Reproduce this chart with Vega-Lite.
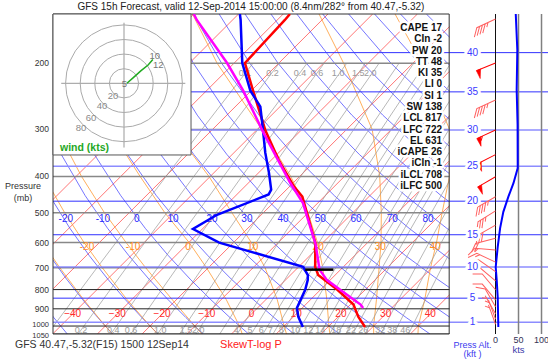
{
  "$schema": "https://vega.github.io/schema/vega-lite/v6.json",
  "width": 495,
  "height": 320,
  "autosize": {"type": "none"},
  "padding": {"left": 53, "top": 14, "right": 0, "bottom": 25},
  "background": "white",
  "config": {"view": {"stroke": null}, "font": "Liberation Sans"},
  "resolve": {"scale": {"x": "independent", "y": "independent"}},
  "layer": [
    {
      "layer": [
        {
          "data": {"values": [
            {"T": -110, "P": [148, 1050]}, {"T": -100, "P": [148, 1050]}, {"T": -90, "P": [148, 1050]}, {"T": -80, "P": [148, 1050]},
            {"T": -70, "P": [148, 1050]}, {"T": -60, "P": [148, 1050]}, {"T": -50, "P": [148, 1050]}, {"T": -40, "P": [148, 1050]},
            {"T": -30, "P": [148, 1050]}, {"T": -20, "P": [148, 1050]}, {"T": -10, "P": [148, 1050]}, {"T": 0, "P": [148, 1050]},
            {"T": 10, "P": [148, 1050]}, {"T": 20, "P": [148, 1050]}, {"T": 30, "P": [148, 1050]}, {"T": 40, "P": [148, 1050]}
          ]},
          "transform": [{"flatten": ["P"]}, {"calculate": "datum.T + 36.53*log(1000/datum.P)", "as": "X"}],
          "mark": {"type": "line", "clip": true, "stroke": "#ff3b3b", "strokeWidth": 0.7},
          "encoding": {
            "x": {"field": "X", "type": "quantitative", "scale": {"domain": [-41.7, 69.0], "nice": false, "zero": false}, "axis": null},
            "y": {"field": "P", "type": "quantitative", "scale": {"type": "log", "domain": [148, 1050], "reverse": true, "nice": false}, "axis": null},
            "detail": {"field": "T"},
            "order": {"field": "P", "type": "quantitative"}
          }
        },
        {
          "data": {"values": [
            {"th": -40, "P": [1050, 950, 850, 750, 650, 550, 450, 350, 275, 200, 148]},
            {"th": -30, "P": [1050, 950, 850, 750, 650, 550, 450, 350, 275, 200, 148]},
            {"th": -20, "P": [1050, 950, 850, 750, 650, 550, 450, 350, 275, 200, 148]},
            {"th": -10, "P": [1050, 950, 850, 750, 650, 550, 450, 350, 275, 200, 148]},
            {"th": 0, "P": [1050, 950, 850, 750, 650, 550, 450, 350, 275, 200, 148]},
            {"th": 10, "P": [1050, 950, 850, 750, 650, 550, 450, 350, 275, 200, 148]},
            {"th": 20, "P": [1050, 950, 850, 750, 650, 550, 450, 350, 275, 200, 148]},
            {"th": 30, "P": [1050, 950, 850, 750, 650, 550, 450, 350, 275, 200, 148]},
            {"th": 40, "P": [1050, 950, 850, 750, 650, 550, 450, 350, 275, 200, 148]},
            {"th": 50, "P": [1050, 950, 850, 750, 650, 550, 450, 350, 275, 200, 148]},
            {"th": 60, "P": [1050, 950, 850, 750, 650, 550, 450, 350, 275, 200, 148]},
            {"th": 70, "P": [1050, 950, 850, 750, 650, 550, 450, 350, 275, 200, 148]},
            {"th": 80, "P": [1050, 950, 850, 750, 650, 550, 450, 350, 275, 200, 148]},
            {"th": 90, "P": [1050, 950, 850, 750, 650, 550, 450, 350, 275, 200, 148]},
            {"th": 100, "P": [1050, 950, 850, 750, 650, 550, 450, 350, 275, 200, 148]},
            {"th": 110, "P": [1050, 950, 850, 750, 650, 550, 450, 350, 275, 200, 148]},
            {"th": 120, "P": [1050, 950, 850, 750, 650, 550, 450, 350, 275, 200, 148]},
            {"th": 130, "P": [1050, 950, 850, 750, 650, 550, 450, 350, 275, 200, 148]},
            {"th": 140, "P": [1050, 950, 850, 750, 650, 550, 450, 350, 275, 200, 148]},
            {"th": 150, "P": [1050, 950, 850, 750, 650, 550, 450, 350, 275, 200, 148]},
            {"th": 160, "P": [1050, 950, 850, 750, 650, 550, 450, 350, 275, 200, 148]}
          ]},
          "transform": [
            {"flatten": ["P"]},
            {"calculate": "(datum.th+273.15)*pow(datum.P/1000,0.2857)-273.15", "as": "T"},
            {"calculate": "datum.T + 36.53*log(1000/datum.P)", "as": "X"}
          ],
          "mark": {"type": "line", "clip": true, "stroke": "#3b3bff", "strokeWidth": 0.7},
          "encoding": {
            "x": {"field": "X", "type": "quantitative", "scale": {"domain": [-41.7, 69.0], "nice": false, "zero": false}, "axis": null},
            "y": {"field": "P", "type": "quantitative", "scale": {"type": "log", "domain": [148, 1050], "reverse": true, "nice": false}, "axis": null},
            "detail": {"field": "th"},
            "order": {"field": "P", "type": "quantitative"}
          }
        },
        {
          "data": {"values": [
            {"w": -30, "P": [1050, 1000, 850, 700, 600, 500, 400, 300, 200, 148], "T": [-26.6, -30, -40.8, -53.2, -62.7, -73.3, -85.5, -100.3, -119, -131]},
            {"w": -20, "P": [1050, 1000, 850, 700, 600, 500, 400, 300, 200, 148], "T": [-16.5, -20, -31.1, -43.7, -53.4, -64.4, -77.2, -92.6, -112.2, -124.5]},
            {"w": -10, "P": [1050, 1000, 850, 700, 600, 500, 400, 300, 200, 148], "T": [-6.6, -10, -21.0, -34.0, -44.0, -55.5, -68.8, -84.8, -105, -118]},
            {"w": 0, "P": [1050, 1000, 850, 700, 600, 500, 400, 300, 200, 148], "T": [2.4, 0, -8.9, -20.4, -29.9, -42, -55.7, -72.9, -94.5, -108]},
            {"w": 10, "P": [1050, 1000, 850, 700, 600, 500, 400, 300, 200, 148], "T": [12.3, 10, 2.5, -7.3, -16.0, -27.0, -40.3, -58.7, -82.0, -97]},
            {"w": 20, "P": [1050, 1000, 850, 700, 600, 500, 400, 300, 200, 148], "T": [22.0, 20, 13.6, 5.6, -1.2, -10.0, -22.0, -39.0, -63.8, -80.3]},
            {"w": 30, "P": [1050, 1000, 850, 700, 600, 500, 400, 300, 200, 148], "T": [31.8, 30, 24.7, 18.2, 13.0, 6.4, -2.1, -14.3, -35.5, -52]},
            {"w": 40, "P": [1050, 1000, 850, 700, 600, 500, 400, 300, 200, 148], "T": [41.7, 40, 35.5, 29.7, 25.4, 20, 13.5, 3, -18, -35]}
          ]},
          "transform": [{"flatten": ["P", "T"]}, {"calculate": "datum.T + 36.53*log(1000/datum.P)", "as": "X"}],
          "mark": {"type": "line", "clip": true, "stroke": "#ff9a33", "strokeWidth": 0.8},
          "encoding": {
            "x": {"field": "X", "type": "quantitative", "scale": {"domain": [-41.7, 69.0], "nice": false, "zero": false}, "axis": null},
            "y": {"field": "P", "type": "quantitative", "scale": {"type": "log", "domain": [148, 1050], "reverse": true, "nice": false}, "axis": null},
            "detail": {"field": "w"},
            "order": {"field": "P", "type": "quantitative"}
          }
        },
        {
          "data": {"values": [
            {"w": 0.1, "P": [1050, 850, 700, 550, 400, 300, 200]}, {"w": 0.2, "P": [1050, 850, 700, 550, 400, 300, 200]},
            {"w": 0.4, "P": [1050, 850, 700, 550, 400, 300, 200]}, {"w": 0.6, "P": [1050, 850, 700, 550, 400, 300, 200]},
            {"w": 1, "P": [1050, 850, 700, 550, 400, 300, 200]}, {"w": 1.5, "P": [1050, 850, 700, 550, 400, 300, 200]},
            {"w": 2, "P": [1050, 850, 700, 550, 400, 300, 200]}, {"w": 3, "P": [1050, 850, 700, 550, 400, 300, 200]},
            {"w": 4, "P": [1050, 850, 700, 550, 400, 300, 200]}, {"w": 5, "P": [1050, 850, 700, 550, 400, 300, 200]},
            {"w": 6, "P": [1050, 850, 700, 550, 400, 300, 200]}, {"w": 7, "P": [1050, 850, 700, 550, 400, 300, 200]},
            {"w": 8, "P": [1050, 850, 700, 550, 400, 300, 200]}, {"w": 10, "P": [1050, 850, 700, 550, 400, 300, 200]},
            {"w": 12, "P": [1050, 850, 700, 550, 400, 300, 200]}, {"w": 14, "P": [1050, 850, 700, 550, 400, 300, 200]},
            {"w": 16, "P": [1050, 850, 700, 550, 400, 300, 200]}, {"w": 18, "P": [1050, 850, 700, 550, 400, 300, 200]},
            {"w": 20, "P": [1050, 850, 700, 550, 400, 300, 200]}, {"w": 22, "P": [1050, 850, 700, 550, 400, 300, 200]},
            {"w": 26, "P": [1050, 850, 700, 550, 400, 300, 200]}, {"w": 32, "P": [1050, 850, 700, 550, 400, 300, 200]},
            {"w": 38, "P": [1050, 850, 700, 550, 400, 300, 200]}, {"w": 46, "P": [1050, 850, 700, 550, 400, 300, 200]}
          ]},
          "transform": [
            {"flatten": ["P"]},
            {"calculate": "log((datum.w*datum.P/(622+datum.w))/6.112)", "as": "L"},
            {"calculate": "243.5*datum.L/(17.67-datum.L)", "as": "T"},
            {"calculate": "datum.T + 36.53*log(1000/datum.P)", "as": "X"}
          ],
          "mark": {"type": "line", "clip": true, "stroke": "#9a9a9a", "strokeWidth": 0.7},
          "encoding": {
            "x": {"field": "X", "type": "quantitative", "scale": {"domain": [-41.7, 69.0], "nice": false, "zero": false}, "axis": null},
            "y": {"field": "P", "type": "quantitative", "scale": {"type": "log", "domain": [148, 1050], "reverse": true, "nice": false}, "axis": null},
            "detail": {"field": "w"},
            "order": {"field": "P", "type": "quantitative"}
          }
        },
        {
          "data": {"values": [{"P": 200}, {"P": 300}, {"P": 400}, {"P": 500}, {"P": 600}, {"P": 700}, {"P": 800}, {"P": 900}, {"P": 1000}, {"P": 1050}]},
          "layer": [
            {
              "mark": {"type": "rule", "clip": true},
              "encoding": {
                "stroke": {"condition": {"test": "datum.P >= 700", "value": "#222"}, "value": "#888"},
                "strokeWidth": {"condition": {"test": "datum.P >= 700", "value": 1}, "value": 1.5}
              }
            },
            {
              "transform": [{"filter": "datum.P < 1000"}],
              "mark": {"type": "text", "fontSize": 8.5, "fill": "#333", "align": "right", "baseline": "middle"},
              "encoding": {
                "x": {"datum": -42.6, "type": "quantitative", "scale": {"domain": [-41.7, 69.0], "nice": false, "zero": false}, "axis": null},
                "text": {"field": "P", "type": "quantitative", "format": "d"}
              }
            },
            {
              "transform": [{"filter": "datum.P == 1000"}],
              "mark": {"type": "text", "fontSize": 7.5, "fill": "#333", "align": "right", "baseline": "middle", "dy": -1.5},
              "encoding": {
                "x": {"datum": -42.6, "type": "quantitative", "scale": {"domain": [-41.7, 69.0], "nice": false, "zero": false}, "axis": null},
                "text": {"field": "P", "type": "quantitative", "format": "d"}
              }
            },
            {
              "transform": [{"filter": "datum.P == 1050"}],
              "mark": {"type": "text", "fontSize": 7.5, "fill": "#333", "align": "right", "baseline": "middle", "dy": 1.5},
              "encoding": {
                "x": {"datum": -42.6, "type": "quantitative", "scale": {"domain": [-41.7, 69.0], "nice": false, "zero": false}, "axis": null},
                "text": {"field": "P", "type": "quantitative", "format": "d"}
              }
            }
          ],
          "encoding": {
            "y": {"field": "P", "type": "quantitative", "scale": {"type": "log", "domain": [148, 1050], "reverse": true, "nice": false}, "axis": null}
          }
        },
        {
          "data": {"values": [{"s": "Pressure"}]},
          "mark": {"type": "text", "fontSize": 9, "fill": "#333", "align": "center", "baseline": "middle"},
          "encoding": {
            "x": {"datum": -48.4, "type": "quantitative", "scale": {"domain": [-41.7, 69.0], "nice": false, "zero": false}, "axis": null},
            "y": {"datum": 424.3, "type": "quantitative", "scale": {"type": "log", "domain": [148, 1050], "reverse": true, "nice": false}, "axis": null},
            "text": {"field": "s"}
          }
        },
        {
          "data": {"values": [{"s": "(mb)"}]},
          "mark": {"type": "text", "fontSize": 9, "fill": "#333", "align": "center", "baseline": "middle"},
          "encoding": {
            "x": {"datum": -48.4, "type": "quantitative", "scale": {"domain": [-41.7, 69.0], "nice": false, "zero": false}, "axis": null},
            "y": {"datum": 456.7, "type": "quantitative", "scale": {"type": "log", "domain": [148, 1050], "reverse": true, "nice": false}, "axis": null},
            "text": {"field": "s"}
          }
        },
        {
          "data": {"values": [{"T": -40, "P": 929}, {"T": -30, "P": 929}, {"T": -20, "P": 929}, {"T": -10, "P": 929}, {"T": 0, "P": 929}, {"T": 10, "P": 929}, {"T": 20, "P": 929}, {"T": 30, "P": 929}, {"T": 40, "P": 929}]},
          "transform": [{"calculate": "datum.T + 36.53*log(1000/datum.P)", "as": "X"}],
          "mark": {"type": "text", "fontSize": 10, "color": "#ff2a2a", "baseline": "middle"},
          "encoding": {
            "x": {"field": "X", "type": "quantitative", "scale": {"domain": [-41.7, 69.0], "nice": false, "zero": false}, "axis": null},
            "y": {"field": "P", "type": "quantitative", "scale": {"type": "log", "domain": [148, 1050], "reverse": true, "nice": false}, "axis": null},
            "text": {"field": "T", "type": "quantitative", "format": "d"}
          }
        },
        {
          "data": {"values": [
            {"lab": "-20", "T": -62.8, "P": 519}, {"lab": "-10", "T": -54.5, "P": 519}, {"lab": "0", "T": -46.9, "P": 519},
            {"lab": "10", "T": -38.8, "P": 519}, {"lab": "20", "T": -30.1, "P": 519}, {"lab": "30", "T": -22.3, "P": 519},
            {"lab": "40", "T": -14.2, "P": 519}, {"lab": "50", "T": -5.9, "P": 519}, {"lab": "60", "T": 2.1, "P": 519},
            {"lab": "70", "T": 10.2, "P": 519}, {"lab": "80", "T": 18.2, "P": 519}
          ]},
          "transform": [{"calculate": "datum.T + 36.53*log(1000/datum.P)", "as": "X"}],
          "mark": {"type": "text", "fontSize": 10, "color": "#2a2aff", "baseline": "middle"},
          "encoding": {
            "x": {"field": "X", "type": "quantitative", "scale": {"domain": [-41.7, 69.0], "nice": false, "zero": false}, "axis": null},
            "y": {"field": "P", "type": "quantitative", "scale": {"type": "log", "domain": [148, 1050], "reverse": true, "nice": false}, "axis": null},
            "text": {"field": "lab"}
          }
        },
        {
          "data": {"values": [
            {"lab": "-20", "T": -51.8, "P": 616}, {"lab": "-10", "T": -41.5, "P": 616}, {"lab": "0", "T": -29.2, "P": 616},
            {"lab": "10", "T": -14.7, "P": 616}, {"lab": "20", "T": -0.1, "P": 616}, {"lab": "30", "T": 13.8, "P": 616}, {"lab": "40", "T": 26.1, "P": 616}
          ]},
          "transform": [{"calculate": "datum.T + 36.53*log(1000/datum.P)", "as": "X"}],
          "mark": {"type": "text", "fontSize": 10, "color": "#ff8c1a", "baseline": "middle"},
          "encoding": {
            "x": {"field": "X", "type": "quantitative", "scale": {"domain": [-41.7, 69.0], "nice": false, "zero": false}, "axis": null},
            "y": {"field": "P", "type": "quantitative", "scale": {"type": "log", "domain": [148, 1050], "reverse": true, "nice": false}, "axis": null},
            "text": {"field": "lab"}
          }
        },
        {
          "data": {"values": [
            {"lab": "0.2", "T": -34.6, "P": 1023}, {"lab": "0.4", "T": -27.4, "P": 1023}, {"lab": "0.6", "T": -23.4, "P": 1023},
            {"lab": "1.0", "T": -16.9, "P": 1023}, {"lab": "1.5", "T": -11.1, "P": 1023}, {"lab": "2.0", "T": -8.4, "P": 1023},
            {"lab": "4", "T": 0.1, "P": 1023}, {"lab": "5", "T": 3.2, "P": 1023}, {"lab": "6", "T": 5.7, "P": 1023},
            {"lab": "7", "T": 7.7, "P": 1023}, {"lab": "8", "T": 10.2, "P": 1023}, {"lab": "10", "T": 13.3, "P": 1023},
            {"lab": "12", "T": 16.2, "P": 1023}, {"lab": "14", "T": 18.9, "P": 1023}, {"lab": "18", "T": 22.5, "P": 1023},
            {"lab": "22", "T": 25.8, "P": 1023}, {"lab": "26", "T": 28.5, "P": 1023}, {"lab": "32", "T": 32.3, "P": 1023},
            {"lab": "38", "T": 35.0, "P": 1023}, {"lab": "46", "T": 37.9, "P": 1023},
            {"lab": "0.1", "T": -55.4, "P": 212}, {"lab": "0.2", "T": -49.3, "P": 212}, {"lab": "0.4", "T": -43.1, "P": 212},
            {"lab": "0.6", "T": -39.3, "P": 212}, {"lab": "1.0", "T": -34.6, "P": 212}, {"lab": "1.5", "T": -30.1, "P": 212},
            {"lab": "2.0", "T": -27.4, "P": 212}
          ]},
          "transform": [{"calculate": "datum.T + 36.53*log(1000/datum.P)", "as": "X"}],
          "mark": {"type": "text", "fontSize": 9, "color": "#9a9a9a", "baseline": "middle"},
          "encoding": {
            "x": {"field": "X", "type": "quantitative", "scale": {"domain": [-41.7, 69.0], "nice": false, "zero": false}, "axis": null},
            "y": {"field": "P", "type": "quantitative", "scale": {"type": "log", "domain": [148, 1050], "reverse": true, "nice": false}, "axis": null},
            "text": {"field": "lab"}
          }
        },
        {
          "data": {"values": [{"s": "GFS 15h Forecast, valid 12-Sep-2014 15:00:00 (8.4nm/282° from 40.47,-5.32)"}]},
          "mark": {"type": "text", "fontSize": 10, "color": "#222", "align": "center", "baseline": "middle"},
          "encoding": {
            "x": {"datum": 2.57, "type": "quantitative", "scale": {"domain": [-41.7, 69.0], "nice": false, "zero": false}, "axis": null},
            "y": {"datum": 142.2, "type": "quantitative", "scale": {"type": "log", "domain": [148, 1050], "reverse": true, "nice": false}, "axis": null},
            "text": {"field": "s"}
          }
        },
        {
          "data": {"values": [{"s": "SkewT-log P"}]},
          "mark": {"type": "text", "fontSize": 11, "color": "#ff2020", "align": "center", "baseline": "middle"},
          "encoding": {
            "x": {"datum": 2.57, "type": "quantitative", "scale": {"domain": [-41.7, 69.0], "nice": false, "zero": false}, "axis": null},
            "y": {"datum": 1123.5, "type": "quantitative", "scale": {"type": "log", "domain": [148, 1050], "reverse": true, "nice": false}, "axis": null},
            "text": {"field": "s"}
          }
        },
        {
          "data": {"values": [{"s": "GFS 40.47,-5.32(F15) 1500 12Sep14"}]},
          "mark": {"type": "text", "fontSize": 10.5, "color": "#333", "align": "left", "baseline": "middle"},
          "encoding": {
            "x": {"datum": -50.2, "type": "quantitative", "scale": {"domain": [-41.7, 69.0], "nice": false, "zero": false}, "axis": null},
            "y": {"datum": 1123.5, "type": "quantitative", "scale": {"type": "log", "domain": [148, 1050], "reverse": true, "nice": false}, "axis": null},
            "text": {"field": "s"}
          }
        }
      ]
    },
    {
      "layer": [
        {
          "data": {"values": [{}]},
          "mark": {"type": "rect", "fill": "white", "stroke": null},
          "encoding": {
            "x": {"datum": -100, "type": "quantitative", "scale": {"domain": [-962, 114.1], "nice": false, "zero": false}, "axis": null},
            "x2": {"datum": 114.1},
            "y": {"datum": 148, "type": "quantitative", "scale": {"type": "log", "domain": [148, 1050], "reverse": true, "nice": false}, "axis": null},
            "y2": {"datum": 1050}
          }
        },
        {
          "data": {"values": [{"k": 40, "P": 187.5}, {"k": 35, "P": 238.4}, {"k": 30, "P": 300.9}, {"k": 25, "P": 376.0}, {"k": 20, "P": 465.6}, {"k": 15, "P": 571.8}, {"k": 10, "P": 696.8}, {"k": 5, "P": 843.1}, {"k": 1, "P": 977.2}]},
          "mark": {"type": "rule"},
          "encoding": {
            "y": {"field": "P", "type": "quantitative", "scale": {"type": "log", "domain": [148, 1050], "reverse": true, "nice": false}, "axis": null},
            "stroke": {"condition": {"test": "datum.k == 30 || datum.k == 25 || datum.k == 10 || datum.k == 1", "value": "#8c8cff"}, "value": "#3030ff"},
            "strokeWidth": {"condition": {"test": "datum.k == 30 || datum.k == 25 || datum.k == 10 || datum.k == 1", "value": 1.5}, "value": 1}
          }
        },
        {
          "data": {"values": [{"v": 0}, {"v": 50}, {"v": 100}]},
          "layer": [
            {
              "mark": {"type": "rule"},
              "encoding": {
                "stroke": {"condition": {"test": "datum.v == 0", "value": "#111"}, "value": "#808080"},
                "strokeWidth": {"condition": {"test": "datum.v == 0", "value": 1}, "value": 1.5}
              }
            },
            {
              "mark": {"type": "text", "fontSize": 9, "fill": "#333355", "align": "center", "baseline": "middle"},
              "encoding": {
                "y": {"datum": 1086, "type": "quantitative", "scale": {"type": "log", "domain": [148, 1050], "reverse": true, "nice": false}, "axis": null},
                "text": {"field": "v", "type": "quantitative", "format": "d"}
              }
            }
          ],
          "encoding": {
            "x": {"field": "v", "type": "quantitative", "scale": {"domain": [-962, 114.1], "nice": false, "zero": false}, "axis": null}
          }
        },
        {
          "data": {"values": [{"s": "kts"}]},
          "mark": {"type": "text", "fontSize": 9.5, "fill": "#3a3aaa", "align": "center", "baseline": "middle"},
          "encoding": {
            "x": {"datum": 50, "type": "quantitative", "scale": {"domain": [-962, 114.1], "nice": false, "zero": false}, "axis": null},
            "y": {"datum": 1158, "type": "quantitative", "scale": {"type": "log", "domain": [148, 1050], "reverse": true, "nice": false}, "axis": null},
            "text": {"field": "s"}
          }
        },
        {
          "data": {"values": [
            {"kt": 44, "P": 148}, {"kt": 47.4, "P": 184.5}, {"kt": 46, "P": 235.7}, {"kt": 48, "P": 292}, {"kt": 48.3, "P": 380},
            {"kt": 39, "P": 417}, {"kt": 28, "P": 453}, {"kt": 17, "P": 497}, {"kt": 10, "P": 549}, {"kt": 4.8, "P": 616},
            {"kt": 0.4, "P": 697}, {"kt": 2.6, "P": 755}, {"kt": 4.8, "P": 838}, {"kt": 6.1, "P": 1006}
          ]},
          "mark": {"type": "line", "stroke": "#0000ff", "strokeWidth": 2},
          "encoding": {
            "x": {"field": "kt", "type": "quantitative", "scale": {"domain": [-962, 114.1], "nice": false, "zero": false}, "axis": null},
            "y": {"field": "P", "type": "quantitative", "scale": {"type": "log", "domain": [148, 1050], "reverse": true, "nice": false}, "axis": null},
            "order": {"field": "P", "type": "quantitative"}
          }
        },
        {
          "data": {"name": "barbs", "values": [
            {"P": 152.6, "dir": 245, "spd": 45}, {"P": 199.8, "dir": 248, "spd": 50}, {"P": 250.5, "dir": 245, "spd": 45},
            {"P": 301, "dir": 245, "spd": 55}, {"P": 350, "dir": 243, "spd": 50}, {"P": 401, "dir": 240, "spd": 50},
            {"P": 453, "dir": 240, "spd": 45}, {"P": 494, "dir": 238, "spd": 35}, {"P": 539, "dir": 240, "spd": 30},
            {"P": 584, "dir": 255, "spd": 20}, {"P": 628, "dir": 275, "spd": 15}, {"P": 676, "dir": 295, "spd": 15},
            {"P": 717, "dir": 305, "spd": 10}, {"P": 758, "dir": 310, "spd": 10}, {"P": 801, "dir": 320, "spd": 10},
            {"P": 852, "dir": 320, "spd": 10}, {"P": 889, "dir": 330, "spd": 10}, {"P": 927, "dir": 330, "spd": 5},
            {"P": 959, "dir": 340, "spd": 5}, {"P": 989, "dir": 340, "spd": 5}
          ]},
          "mark": {"type": "point", "filled": false, "strokeWidth": 1, "opacity": 1, "size": 1700},
          "encoding": {
            "x": {"datum": 0, "type": "quantitative", "scale": {"domain": [-962, 114.1], "nice": false, "zero": false}, "axis": null},
            "y": {"field": "P", "type": "quantitative", "scale": {"type": "log", "domain": [148, 1050], "reverse": true, "nice": false}, "axis": null},
            "angle": {"field": "dir", "type": "quantitative", "scale": {"domain": [0, 360], "range": [0, 360]}},
            "shape": {"field": "spd", "type": "nominal", "legend": null, "scale": {
              "domain": [5, 10, 15, 20, 25, 30, 35, 40, 45, 50, 55],
              "range": [
                "M0,0L0,-1M0,-0.85L-0.18,-1",
                "M0,0L0,-1L-0.36,-1.3",
                "M0,0L0,-1L-0.36,-1.3M0,-0.85L-0.18,-1",
                "M0,0L0,-1L-0.36,-1.3M0,-0.85L-0.36,-1.15",
                "M0,0L0,-1L-0.36,-1.3M0,-0.85L-0.36,-1.15M0,-0.7L-0.18,-0.85",
                "M0,0L0,-1L-0.36,-1.3M0,-0.85L-0.36,-1.15M0,-0.7L-0.36,-1",
                "M0,0L0,-1L-0.36,-1.3M0,-0.85L-0.36,-1.15M0,-0.7L-0.36,-1M0,-0.55L-0.18,-0.7",
                "M0,0L0,-1L-0.36,-1.3M0,-0.85L-0.36,-1.15M0,-0.7L-0.36,-1M0,-0.55L-0.36,-0.85",
                "M0,0L0,-1L-0.36,-1.3M0,-0.85L-0.36,-1.15M0,-0.7L-0.36,-1M0,-0.55L-0.36,-0.85M0,-0.4L-0.18,-0.55",
                "M0,0L0,-1",
                "M0,0L0,-1M0,-0.7L-0.18,-0.85"
              ]}},
            "stroke": {"condition": {"test": "datum.spd >= 50", "value": "#ff0000"}, "value": "#ff6060"}
          }
        },
        {
          "data": {"name": "barbs"},
          "transform": [{"filter": "datum.spd >= 50"}],
          "mark": {"type": "point", "filled": true, "fill": "#ff0000", "stroke": "#ff0000", "strokeWidth": 0.5, "opacity": 1, "size": 1700, "shape": "M0,-1L-0.42,-0.97L0,-0.78Z"},
          "encoding": {
            "x": {"datum": 0, "type": "quantitative", "scale": {"domain": [-962, 114.1], "nice": false, "zero": false}, "axis": null},
            "y": {"field": "P", "type": "quantitative", "scale": {"type": "log", "domain": [148, 1050], "reverse": true, "nice": false}, "axis": null},
            "angle": {"field": "dir", "type": "quantitative", "scale": {"domain": [0, 360], "range": [0, 360]}}
          }
        },
        {
          "data": {"values": [{"k": 40, "P": 187.5}, {"k": 35, "P": 238.4}, {"k": 30, "P": 300.9}, {"k": 25, "P": 376.0}, {"k": 20, "P": 465.6}, {"k": 15, "P": 571.8}, {"k": 10, "P": 696.8}, {"k": 5, "P": 843.1}, {"k": 1, "P": 977.2}]},
          "layer": [
            {"mark": {"type": "text", "fontSize": 10, "stroke": "white", "strokeWidth": 6, "strokeJoin": "round", "fill": "white", "align": "center", "baseline": "middle"}},
            {"mark": {"type": "text", "fontSize": 10, "fill": "#3a3aff", "align": "center", "baseline": "middle"}}
          ],
          "encoding": {
            "x": {"datum": -50, "type": "quantitative", "scale": {"domain": [-962, 114.1], "nice": false, "zero": false}, "axis": null},
            "y": {"field": "P", "type": "quantitative", "scale": {"type": "log", "domain": [148, 1050], "reverse": true, "nice": false}, "axis": null},
            "text": {"field": "k", "type": "quantitative", "format": "d"}
          }
        },
        {
          "data": {"values": [{"s": "Press Alt."}]},
          "mark": {"type": "text", "fontSize": 9, "fill": "#3a3aee", "align": "center", "baseline": "middle"},
          "encoding": {
            "x": {"datum": -50, "type": "quantitative", "scale": {"domain": [-962, 114.1], "nice": false, "zero": false}, "axis": null},
            "y": {"datum": 1123, "type": "quantitative", "scale": {"type": "log", "domain": [148, 1050], "reverse": true, "nice": false}, "axis": null},
            "text": {"field": "s"}
          }
        },
        {
          "data": {"values": [{"s": "(kft )"}]},
          "mark": {"type": "text", "fontSize": 9, "fill": "#3a3aee", "align": "center", "baseline": "middle"},
          "encoding": {
            "x": {"datum": -50, "type": "quantitative", "scale": {"domain": [-962, 114.1], "nice": false, "zero": false}, "axis": null},
            "y": {"datum": 1190, "type": "quantitative", "scale": {"type": "log", "domain": [148, 1050], "reverse": true, "nice": false}, "axis": null},
            "text": {"field": "s"}
          }
        }
      ]
    },
    {
      "layer": [
        {
          "data": {"values": [{}]},
          "mark": {"type": "rect", "fill": null, "fillOpacity": 0, "stroke": "#333", "strokeWidth": 1},
          "encoding": {
            "x": {"datum": -41.7, "type": "quantitative", "scale": {"domain": [-41.7, 69.0], "nice": false, "zero": false}, "axis": null},
            "x2": {"datum": 46.9},
            "y": {"datum": 148, "type": "quantitative", "scale": {"type": "log", "domain": [148, 1050], "reverse": true, "nice": false}, "axis": null},
            "y2": {"datum": 1050}
          }
        },
        {
          "data": {"values": [
            {"T": -58.5, "P": 148}, {"T": -58.3, "P": 153.5}, {"T": -57.6, "P": 199.8}, {"T": -49.6, "P": 236.7}, {"T": -38.1, "P": 301},
            {"T": -28.5, "P": 361}, {"T": -19.1, "P": 425}, {"T": -14.9, "P": 452.6}, {"T": -1.7, "P": 600}, {"T": 3.7, "P": 696},
            {"T": 6.2, "P": 732}, {"T": 13.8, "P": 801}, {"T": 20.7, "P": 877}, {"T": 24.5, "P": 945}, {"T": 28.3, "P": 1006}
          ]},
          "transform": [{"calculate": "datum.T + 36.53*log(1000/datum.P)", "as": "X"}],
          "mark": {"type": "line", "clip": true, "stroke": "#ff0000", "strokeWidth": 2.5},
          "encoding": {
            "x": {"field": "X", "type": "quantitative", "scale": {"domain": [-41.7, 69.0], "nice": false, "zero": false}, "axis": null},
            "y": {"field": "P", "type": "quantitative", "scale": {"type": "log", "domain": [148, 1050], "reverse": true, "nice": false}, "axis": null},
            "order": {"field": "P", "type": "quantitative"}
          }
        },
        {
          "data": {"values": [
            {"T": -69.7, "P": 148}, {"T": -68.2, "P": 153.5}, {"T": -58.2, "P": 199.8}, {"T": -50.2, "P": 236.7}, {"T": -44.4, "P": 261},
            {"T": -38.6, "P": 301}, {"T": -33.0, "P": 346}, {"T": -27.6, "P": 392}, {"T": -23.4, "P": 434}, {"T": -22.9, "P": 447},
            {"T": -29.9, "P": 506}, {"T": -32.1, "P": 552}, {"T": -23.2, "P": 600}, {"T": 1.0, "P": 696}, {"T": 3.9, "P": 732},
            {"T": 5.0, "P": 755}, {"T": 6.6, "P": 801}, {"T": 8.8, "P": 895}, {"T": 11.1, "P": 945}, {"T": 14.4, "P": 1006}
          ]},
          "transform": [{"calculate": "datum.T + 36.53*log(1000/datum.P)", "as": "X"}],
          "mark": {"type": "line", "clip": true, "stroke": "#0000ff", "strokeWidth": 2.5},
          "encoding": {
            "x": {"field": "X", "type": "quantitative", "scale": {"domain": [-41.7, 69.0], "nice": false, "zero": false}, "axis": null},
            "y": {"field": "P", "type": "quantitative", "scale": {"type": "log", "domain": [148, 1050], "reverse": true, "nice": false}, "axis": null},
            "order": {"field": "P", "type": "quantitative"}
          }
        },
        {
          "data": {"values": [
            {"T": -80.0, "P": 148}, {"T": -78.0, "P": 153.5}, {"T": -61.6, "P": 199.8}, {"T": -51.8, "P": 236.7}, {"T": -37.9, "P": 306},
            {"T": -20.7, "P": 416}, {"T": -13.3, "P": 471}, {"T": -1.2, "P": 607}, {"T": 5.3, "P": 708}, {"T": 9.3, "P": 755},
            {"T": 17.3, "P": 828}, {"T": 22.3, "P": 877}, {"T": 23.6, "P": 895}
          ]},
          "transform": [{"calculate": "datum.T + 36.53*log(1000/datum.P)", "as": "X"}],
          "mark": {"type": "line", "clip": true, "stroke": "#ff00ff", "strokeWidth": 2.5},
          "encoding": {
            "x": {"field": "X", "type": "quantitative", "scale": {"domain": [-41.7, 69.0], "nice": false, "zero": false}, "axis": null},
            "y": {"field": "P", "type": "quantitative", "scale": {"type": "log", "domain": [148, 1050], "reverse": true, "nice": false}, "axis": null},
            "order": {"field": "P", "type": "quantitative"}
          }
        },
        {
          "data": {"values": [{"T": 2.1, "P": 708}, {"T": 8.4, "P": 708}]},
          "transform": [{"calculate": "datum.T + 36.53*log(1000/datum.P)", "as": "X"}],
          "mark": {"type": "line", "clip": true, "stroke": "#000000", "strokeWidth": 2.5},
          "encoding": {
            "x": {"field": "X", "type": "quantitative", "scale": {"domain": [-41.7, 69.0], "nice": false, "zero": false}, "axis": null},
            "y": {"field": "P", "type": "quantitative", "scale": {"type": "log", "domain": [148, 1050], "reverse": true, "nice": false}, "axis": null},
            "order": {"field": "T", "type": "quantitative"}
          }
        }
      ]
    },
    {
      "layer": [
        {
          "data": {"values": [{}]},
          "mark": {"type": "rect", "fill": "white", "stroke": "#555", "strokeWidth": 1},
          "encoding": {
            "x": {"datum": -97.26, "type": "quantitative", "scale": {"domain": [-97.26, 580.8], "nice": false, "zero": false}, "axis": null},
            "x2": {"datum": 91.8},
            "y": {"datum": -98.2, "type": "quantitative", "scale": {"domain": [-343.43, 94.93], "nice": false, "zero": false}, "axis": null},
            "y2": {"datum": 94.93}
          }
        },
        {
          "data": {"values": [{}]},
          "mark": {"type": "rule", "stroke": "#999", "strokeWidth": 1},
          "encoding": {
            "x": {"datum": -86, "type": "quantitative", "scale": {"domain": [-97.26, 580.8], "nice": false, "zero": false}, "axis": null},
            "x2": {"datum": 84},
            "y": {"datum": 0, "type": "quantitative", "scale": {"domain": [-343.43, 94.93], "nice": false, "zero": false}, "axis": null}
          }
        },
        {
          "data": {"values": [{}]},
          "mark": {"type": "rule", "stroke": "#999", "strokeWidth": 1},
          "encoding": {
            "x": {"datum": 0, "type": "quantitative", "scale": {"domain": [-97.26, 580.8], "nice": false, "zero": false}, "axis": null},
            "y": {"datum": -88, "type": "quantitative", "scale": {"domain": [-343.43, 94.93], "nice": false, "zero": false}, "axis": null},
            "y2": {"datum": 83}
          }
        },
        {
          "data": {"values": [{"r": 20}, {"r": 40}, {"r": 60}, {"r": 80}]},
          "mark": {"type": "point", "shape": "circle", "filled": false, "stroke": "#aaa", "strokeWidth": 1, "opacity": 1},
          "encoding": {
            "x": {"datum": 0, "type": "quantitative", "scale": {"domain": [-97.26, 580.8], "nice": false, "zero": false}, "axis": null},
            "y": {"datum": 0, "type": "quantitative", "scale": {"domain": [-343.43, 94.93], "nice": false, "zero": false}, "axis": null},
            "size": {"field": "r", "type": "quantitative", "legend": null, "scale": {"type": "pow", "exponent": 2, "domain": [0, 100], "range": [0, 21316]}}
          }
        },
        {
          "data": {"values": [{"lab": "20", "u": -15.1, "v": -17.4}, {"lab": "40", "u": -30.1, "v": -31.1}, {"lab": "60", "u": -45.2, "v": -47.5}, {"lab": "80", "u": -58.9, "v": -61.2}]},
          "mark": {"type": "text", "fontSize": 9.5, "fill": "#8a8a8a", "align": "center", "baseline": "middle"},
          "encoding": {
            "x": {"field": "u", "type": "quantitative", "scale": {"domain": [-97.26, 580.8], "nice": false, "zero": false}, "axis": null},
            "y": {"field": "v", "type": "quantitative", "scale": {"domain": [-343.43, 94.93], "nice": false, "zero": false}, "axis": null},
            "text": {"field": "lab"}
          }
        },
        {
          "data": {"values": [{"i": 0, "u": 4, "v": 0}, {"i": 1, "u": 12, "v": 7}, {"i": 2, "u": 23, "v": 17}, {"i": 3, "u": 33, "v": 25}, {"i": 4, "u": 39.5, "v": 32.5}]},
          "mark": {"type": "line", "stroke": "#22aa22", "strokeWidth": 1.5},
          "encoding": {
            "x": {"field": "u", "type": "quantitative", "scale": {"domain": [-97.26, 580.8], "nice": false, "zero": false}, "axis": null},
            "y": {"field": "v", "type": "quantitative", "scale": {"domain": [-343.43, 94.93], "nice": false, "zero": false}, "axis": null},
            "order": {"field": "i", "type": "quantitative"}
          }
        },
        {
          "data": {"values": [{"lab": "5", "u": 0.5, "v": -1.5}, {"lab": "10", "u": 42, "v": 38}, {"lab": "12", "u": 47, "v": 24.5}]},
          "mark": {"type": "text", "fontSize": 9.5, "fill": "#777", "align": "center", "baseline": "middle"},
          "encoding": {
            "x": {"field": "u", "type": "quantitative", "scale": {"domain": [-97.26, 580.8], "nice": false, "zero": false}, "axis": null},
            "y": {"field": "v", "type": "quantitative", "scale": {"domain": [-343.43, 94.93], "nice": false, "zero": false}, "axis": null},
            "text": {"field": "lab"}
          }
        },
        {
          "data": {"values": [{"s": "wind (kts)"}]},
          "mark": {"type": "text", "fontSize": 10.5, "fontWeight": "bold", "fill": "#1fa81f", "align": "left", "baseline": "middle"},
          "encoding": {
            "x": {"datum": -87.7, "type": "quantitative", "scale": {"domain": [-97.26, 580.8], "nice": false, "zero": false}, "axis": null},
            "y": {"datum": -88.6, "type": "quantitative", "scale": {"domain": [-343.43, 94.93], "nice": false, "zero": false}, "axis": null},
            "text": {"field": "s"}
          }
        }
      ]
    },
    {
      "data": {"values": [
        {"i": 0, "s": "CAPE 17"}, {"i": 1, "s": "CIn -2"}, {"i": 2, "s": "PW 20"}, {"i": 3, "s": "TT 48"}, {"i": 4, "s": "KI 35"},
        {"i": 5, "s": "LI 0"}, {"i": 6, "s": "SI 1"}, {"i": 7, "s": "SW 138"}, {"i": 8, "s": "LCL 817"}, {"i": 9, "s": "LFC 722"},
        {"i": 10, "s": "EL 631"}, {"i": 11, "s": "iCAPE 26"}, {"i": 12, "s": "iCIn -1"}, {"i": 13, "s": "iLCL 708"}, {"i": 14, "s": "iLFC 500"}
      ]},
      "encoding": {
        "x": {"datum": 45.3, "type": "quantitative", "scale": {"domain": [-41.7, 69.0], "nice": false, "zero": false}, "axis": null},
        "y": {"field": "i", "type": "quantitative", "scale": {"domain": [-1.24, 27.1], "reverse": true, "nice": false, "zero": false}, "axis": null},
        "text": {"field": "s"}
      },
      "layer": [
        {"mark": {"type": "text", "fontSize": 10, "fontWeight": "bold", "align": "right", "baseline": "middle", "stroke": "white", "strokeWidth": 5, "strokeJoin": "round", "fill": "white"}},
        {"mark": {"type": "text", "fontSize": 10, "fontWeight": "bold", "align": "right", "baseline": "middle", "fill": "#111"}}
      ]
    }
  ]
}
